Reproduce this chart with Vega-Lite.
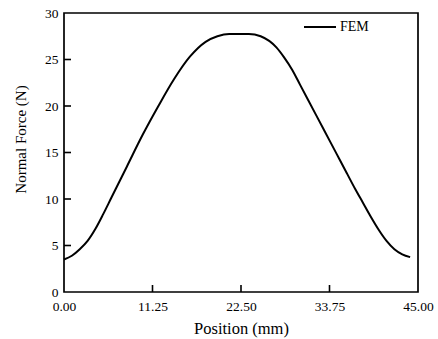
{
  "$schema": "https://vega.github.io/schema/vega-lite/v6.json",
  "width": 354,
  "height": 279,
  "autosize": "none",
  "padding": {"left": 64, "top": 13, "right": 20, "bottom": 47},
  "background": "white",
  "config": {
    "font": "Liberation Serif",
    "view": {"stroke": "black", "strokeWidth": 1.7},
    "axis": {
      "domain": false,
      "ticks": false,
      "grid": false,
      "labelColor": "black",
      "titleColor": "black",
      "labelFont": "Liberation Serif",
      "titleFont": "Liberation Serif",
      "labelFontSize": 13.5,
      "titleFontWeight": "normal",
      "labelFontWeight": "normal",
      "labelFlush": false
    }
  },
  "datasets": {
    "curve": [
      {"position": 0, "force": 3.5, "series": "FEM"},
      {"position": 1, "force": 3.9, "series": "FEM"},
      {"position": 2, "force": 4.6, "series": "FEM"},
      {"position": 3, "force": 5.5, "series": "FEM"},
      {"position": 4, "force": 6.8, "series": "FEM"},
      {"position": 5, "force": 8.4, "series": "FEM"},
      {"position": 6, "force": 10.1, "series": "FEM"},
      {"position": 8, "force": 13.5, "series": "FEM"},
      {"position": 10, "force": 16.9, "series": "FEM"},
      {"position": 12, "force": 20.0, "series": "FEM"},
      {"position": 14, "force": 22.9, "series": "FEM"},
      {"position": 16, "force": 25.3, "series": "FEM"},
      {"position": 18, "force": 26.9, "series": "FEM"},
      {"position": 19.5, "force": 27.5, "series": "FEM"},
      {"position": 21, "force": 27.75, "series": "FEM"},
      {"position": 23.5, "force": 27.75, "series": "FEM"},
      {"position": 25, "force": 27.5, "series": "FEM"},
      {"position": 27, "force": 26.3, "series": "FEM"},
      {"position": 28, "force": 25.2, "series": "FEM"},
      {"position": 29, "force": 23.9, "series": "FEM"},
      {"position": 30, "force": 22.3, "series": "FEM"},
      {"position": 31, "force": 20.7, "series": "FEM"},
      {"position": 32, "force": 19.1, "series": "FEM"},
      {"position": 33, "force": 17.5, "series": "FEM"},
      {"position": 34, "force": 15.9, "series": "FEM"},
      {"position": 35, "force": 14.3, "series": "FEM"},
      {"position": 36, "force": 12.7, "series": "FEM"},
      {"position": 37, "force": 11.1, "series": "FEM"},
      {"position": 38, "force": 9.6, "series": "FEM"},
      {"position": 39, "force": 8.1, "series": "FEM"},
      {"position": 40, "force": 6.7, "series": "FEM"},
      {"position": 41, "force": 5.5, "series": "FEM"},
      {"position": 42, "force": 4.6, "series": "FEM"},
      {"position": 43, "force": 4.05, "series": "FEM"},
      {"position": 44, "force": 3.75, "series": "FEM"}
    ],
    "xticks": [
      {"position": 11.25, "force": 0},
      {"position": 22.5, "force": 0},
      {"position": 33.75, "force": 0}
    ],
    "yticks": [
      {"position": 0, "force": 5},
      {"position": 0, "force": 10},
      {"position": 0, "force": 15},
      {"position": 0, "force": 20},
      {"position": 0, "force": 25}
    ]
  },
  "layer": [
    {
      "data": {"name": "curve"},
      "mark": {"type": "line", "interpolate": "monotone", "strokeWidth": 2},
      "encoding": {
        "x": {
          "field": "position",
          "type": "quantitative",
          "scale": {"domain": [0, 45], "nice": false, "zero": false},
          "axis": {
            "title": "Position (mm)",
            "titleFontSize": 16.5,
            "values": [0, 11.25, 22.5, 33.75, 45],
            "format": ".2f",
            "labelPadding": 7,
            "titleY": 41,
            "titleX": 177,
            "titleBaseline": "alphabetic"
          }
        },
        "y": {
          "field": "force",
          "type": "quantitative",
          "scale": {"domain": [0, 30], "nice": false},
          "axis": {
            "title": "Normal Force (N)",
            "titleFontSize": 15,
            "values": [0, 5, 10, 15, 20, 25, 30],
            "labelPadding": 6,
            "titleX": -44,
            "titleY": 126,
            "titleAlign": "center",
            "titleBaseline": "middle",
            "titleAngle": -90
          }
        },
        "color": {
          "field": "series",
          "type": "nominal",
          "scale": {"range": ["black"]},
          "legend": {
            "title": null,
            "orient": "none",
            "legendX": 239,
            "legendY": -3,
            "symbolType": "stroke",
            "symbolSize": 1024,
            "symbolStrokeWidth": 2,
            "labelFont": "Liberation Serif",
            "labelFontSize": 14,
            "labelColor": "black",
            "labelOffset": 3,
            "padding": 0
          }
        }
      }
    },
    {
      "data": {"name": "xticks"},
      "mark": {"type": "tick", "orient": "vertical", "size": 7, "thickness": 1.6, "yOffset": -3.5, "color": "black", "opacity": 1},
      "encoding": {
        "x": {"field": "position", "type": "quantitative"},
        "y": {"field": "force", "type": "quantitative"}
      }
    },
    {
      "data": {"name": "yticks"},
      "mark": {"type": "tick", "orient": "horizontal", "size": 7, "thickness": 1.6, "xOffset": 3.5, "color": "black", "opacity": 1},
      "encoding": {
        "x": {"field": "position", "type": "quantitative"},
        "y": {"field": "force", "type": "quantitative"}
      }
    }
  ]
}
